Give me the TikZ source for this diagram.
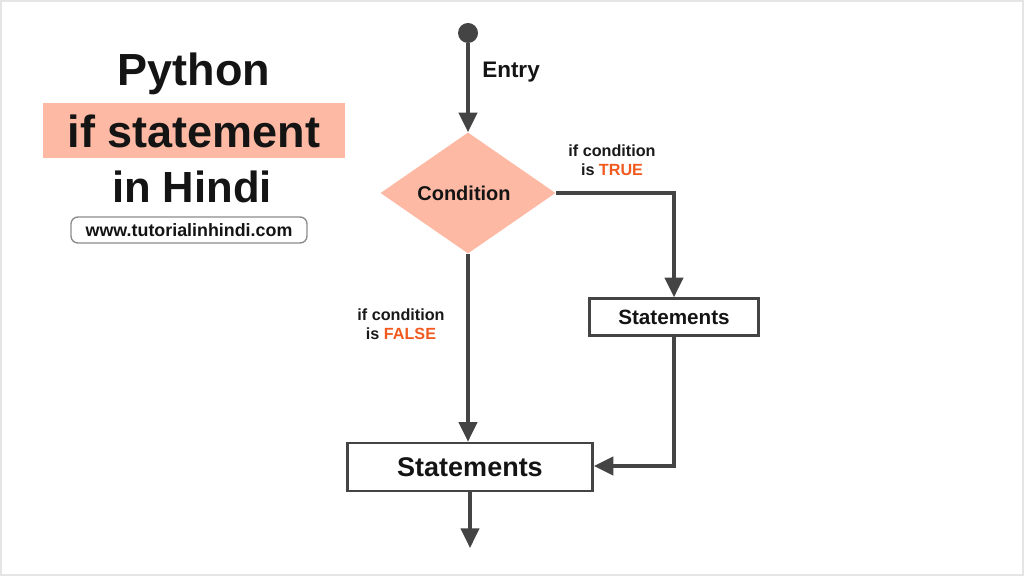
\documentclass[tikz,border=0pt]{standalone}
\usepackage{fontspec}
\setmainfont{Liberation Sans}
\usepackage{xcolor}
\usetikzlibrary{shapes.geometric,arrows.meta,calc}
\definecolor{salmon}{HTML}{FDB9A3}
\definecolor{linegray}{HTML}{444444}
\definecolor{truecol}{HTML}{F05A1E}
\newcommand{\fs}[1]{\fontsize{#1}{1.2\dimexpr#1\relax}\selectfont\bfseries}

\begin{document}
\begin{tikzpicture}[
    x=0.025cm, y=-0.025cm,
    >={Triangle[width=13pt,length=14pt]},
    flow/.style={->, draw=linegray, line width=2.4pt},
    stmt/.style={rectangle, draw=linegray, line width=1.8pt, fill=white, inner sep=0pt},
    label/.style={align=center, text=black!90, inner sep=0pt, font=\fs{11.5pt}},
    every node/.style={text=black!92}
]
  \useasboundingbox (0,0) rectangle (1024,576);
  \draw[black!10, line width=1.5pt] (1,1) rectangle (1023,575);

  % title
  \fill[salmon] (43,103) rectangle (345,158);
  \node (py)  at (194,74)  {\fs{32pt}Python};
  \node (ifs) at (194,131) {\fs{32pt}if statement};
  \node (hin) at (192,187) {\fs{31pt}in Hindi};
  \node[draw=black!45, line width=1pt, rounded corners=5pt,
        minimum width=5.9cm, minimum height=0.65cm] (url) at (189,230)
        {\fs{12.7pt}www.tutorialinhindi.com};

  % nodes
  \node[circle, fill=linegray, minimum size=0.5cm, inner sep=0pt] (start) at (468,33) {};
  \node (entry) at (511,72) {\fs{16pt}Entry};
  \node[diamond, fill=salmon, inner sep=0pt, aspect=1.446,
        minimum width=4.375cm, minimum height=3.025cm] (cond) at (468,193) {};
  \node at (464,193) {\fs{14.2pt}Condition};
  \node[stmt, minimum width=4.225cm, minimum height=0.925cm] (st1) at (674,317) {\fs{14.7pt}Statements};
  \node[stmt, minimum width=6.125cm, minimum height=1.2cm] (st2) at (470,467) {\fs{19.2pt}Statements};
  \coordinate (exit) at (470,548);
  \coordinate (bend) at (674,466);

  \node[label] (ltrue)  at (612,160) {if condition\\is \textcolor{truecol}{TRUE}};
  \node[label] (lfalse) at (401,324) {if condition\\is \textcolor{truecol}{FALSE}};

  % edges
  \draw[flow] (start) -- (cond.north);
  \draw[flow] (cond.east) -| (st1.north);
  \draw[flow] (cond.south) -- (cond.south |- st2.north);
  \draw[flow] (st1.south) -- (bend) -- (st2.east |- bend);
  \draw[flow] (st2.south) -- (exit);
\end{tikzpicture}
\end{document}
